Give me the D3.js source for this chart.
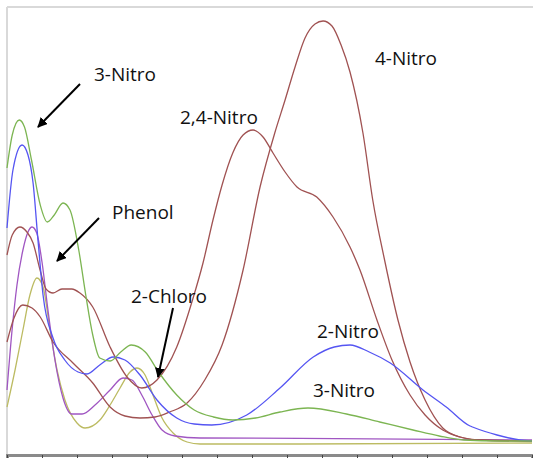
<!DOCTYPE html>
<html>
<head>
<meta charset="utf-8">
<script src="https://cdn.jsdelivr.net/npm/d3@7"></script>
<style>
  html, body { margin: 0; padding: 0; background: #fff; }
  svg { display: block; }
  text { font-family: "Open Sans", sans-serif; font-size: 19px; fill: #111; }
</style>
</head>
<body>
<div id="chart"></div>
<script>
// wavelength (nm), absorbance
const nitro3 = [[200,1.385],[203,1.55],[207,1.625],[210,1.59],[214,1.425],[219,1.2],[223,1.115],[227,1.15],[232,1.21],[236,1.175],[241,0.975],[245,0.75],[249,0.55],[253,0.435],[259,0.42],[265,0.465],[271,0.5],[279,0.465],[287,0.36],[297,0.25],[307,0.175],[318,0.14],[329,0.125],[342,0.135],[356,0.165],[372,0.185],[394,0.155],[413,0.115],[432,0.075],[447,0.045],[461,0.025],[482,0.02],[500,0.02]];
const nitro2 = [[200,1.085],[203.4,1.375],[208.6,1.5],[212,1.45],[214.9,1.31],[217.7,1.025],[220.6,0.75],[226.3,0.535],[233,0.425],[240.6,0.365],[245.7,0.355],[253,0.4],[260.6,0.44],[267.4,0.425],[276,0.35],[285.7,0.225],[297,0.135],[307,0.105],[317,0.1],[337,0.15],[356,0.285],[375,0.44],[387,0.49],[396,0.5],[407,0.465],[419,0.41],[437.7,0.275],[451,0.19],[464.6,0.095],[466,0.09],[480,0.05],[493,0.025],[500,0.02]];
const nitro24 = [[200,0.95],[203,1.05],[207.4,1.09],[211.4,1.065],[214.9,1.01],[218.9,0.875],[222.3,0.78],[226.3,0.76],[231.4,0.78],[237,0.78],[241.7,0.76],[249,0.69],[258.9,0.49],[268.6,0.34],[277,0.285],[285.7,0.325],[297,0.49],[306,0.725],[312,0.91],[317.7,1.125],[322.9,1.3],[329,1.46],[334.9,1.55],[340.6,1.575],[346.3,1.54],[352,1.46],[358.9,1.365],[365.7,1.29],[377,1.24],[386.3,1.14],[396,0.99],[401.7,0.875],[411.4,0.625],[420,0.425],[430.3,0.25],[438.9,0.15],[449,0.075],[458.9,0.04],[470.3,0.025],[500,0.02]];
const nitro4 = [[200,0.515],[204,0.635],[209,0.7],[214.3,0.685],[219,0.64],[226.3,0.515],[237.7,0.41],[249,0.31],[258.9,0.19],[267.4,0.145],[276,0.135],[284.6,0.14],[293,0.165],[302.9,0.21],[313,0.325],[322.9,0.5],[334.9,0.875],[344.6,1.29],[353,1.56],[358.9,1.725],[364.6,1.89],[370.3,2.035],[376,2.105],[380.6,2.12],[385.7,2.095],[390.9,2.0],[396,1.865],[403.4,1.56],[409,1.225],[416,0.915],[423.4,0.625],[430.3,0.415],[438.9,0.225],[449,0.085],[458.9,0.04],[470.3,0.025],[500,0.02]];
const purple = [[200,0.275],[202.9,0.575],[205.7,0.8],[209.1,0.975],[212,1.065],[214.3,1.09],[217,1.06],[220,0.915],[223.4,0.675],[227.4,0.425],[232,0.235],[237,0.155],[242.9,0.155],[250.3,0.2],[258.9,0.275],[266.3,0.335],[271.4,0.325],[277,0.25],[282.9,0.15],[288.6,0.075],[296,0.045],[310.3,0.035],[367.4,0.033],[500,0.025]];
const olive = [[200,0.19],[204.6,0.375],[209.1,0.575],[213.1,0.75],[217.1,0.835],[220.6,0.79],[224.6,0.575],[228.6,0.375],[233.1,0.225],[240,0.11],[244.6,0.085],[253.1,0.125],[258.9,0.2],[264.6,0.285],[270.3,0.365],[274.3,0.385],[278.9,0.35],[283.4,0.25],[288.6,0.135],[294.9,0.06],[302.9,0.015],[310.3,0.005],[367.4,0.005],[500,0.01]];

const series = [
  { name: "2-Chloro", values: olive, color: "#bcbb62" },
  { name: "Phenol", values: purple, color: "#a056c2" },
  { name: "4-Nitro", values: nitro4, color: "#a05252" },
  { name: "2,4-Nitro", values: nitro24, color: "#a05252" },
  { name: "2-Nitro", values: nitro2, color: "#5555f2" },
  { name: "3-Nitro", values: nitro3, color: "#7cb552" }
];

const tickValues = d3.range(200, 501, 20);

// label text, x, baseline y
const labels = [
  ["3-Nitro", 94, 81],
  ["4-Nitro", 375, 65],
  ["2,4-Nitro", 180, 124],
  ["Phenol", 112, 219],
  ["2-Chloro", 131, 303],
  ["2-Nitro", 317, 338],
  ["3-Nitro", 313, 397]
];
// arrow from [x1,y1] to tip [x2,y2]
const arrows = [
  [80, 84, 38, 127],
  [99, 218, 57, 261],
  [173, 308, 158, 377]
];

const width = 533, height = 458;
const plotLeft = 7, plotRight = 532, plotTop = 7, axisY = 455;

const svg = d3.select("#chart").append("svg")
  .attr("width", width)
  .attr("height", height);

const x = d3.scaleLinear().domain([200, 500]).range([plotLeft, plotRight]);
const y = d3.scaleLinear().domain([0, 2]).range([445, 45]);

// frame
svg.append("line")
  .attr("x1", plotLeft).attr("y1", plotTop).attr("x2", width).attr("y2", plotTop)
  .attr("stroke", "#d9d9d9").attr("stroke-width", 2);
svg.append("line")
  .attr("x1", plotLeft).attr("y1", plotTop).attr("x2", plotLeft).attr("y2", axisY)
  .attr("stroke", "#d9d9d9").attr("stroke-width", 2);

// bottom axis
const axis = svg.append("g")
  .attr("transform", `translate(0,${axisY})`)
  .call(d3.axisBottom(x).tickValues(tickValues).tickSize(4).tickFormat(""));
axis.select(".domain").attr("stroke", "#8a8a8a").attr("stroke-width", 3);
axis.selectAll(".tick line").attr("stroke", "#444");

const line = d3.line()
  .x(d => x(d[0]))
  .y(d => y(d[1]))
  .curve(d3.curveMonotoneX);

svg.append("g")
  .selectAll("path")
  .data(series)
  .join("path")
  .attr("d", d => line(d.values))
  .attr("fill", "none")
  .attr("stroke", d => d.color)
  .attr("stroke-width", 1.3);

svg.append("defs").append("marker")
  .attr("id", "head")
  .attr("viewBox", "0 0 10 10")
  .attr("refX", 9).attr("refY", 5)
  .attr("markerWidth", 5).attr("markerHeight", 5)
  .attr("markerUnits", "strokeWidth")
  .attr("orient", "auto")
  .append("path")
  .attr("d", "M0,0L10,5L0,10Z")
  .attr("fill", "#000");

svg.append("g")
  .selectAll("line")
  .data(arrows)
  .join("line")
  .attr("x1", d => d[0]).attr("y1", d => d[1])
  .attr("x2", d => d[2]).attr("y2", d => d[3])
  .attr("stroke", "#000")
  .attr("stroke-width", 2)
  .attr("marker-end", "url(#head)");

svg.append("g")
  .selectAll("text")
  .data(labels)
  .join("text")
  .attr("x", d => d[1])
  .attr("y", d => d[2])
  .text(d => d[0]);
</script>
</body>
</html>
